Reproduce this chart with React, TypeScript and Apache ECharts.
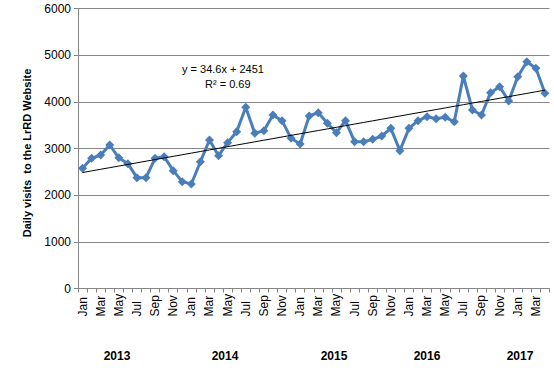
import React, { useEffect, useRef } from "react";
import * as echarts from "echarts";

const months = [
  "Jan", "Feb", "Mar", "Apr", "May", "Jun", "Jul", "Aug", "Sep", "Oct", "Nov", "Dec",
  "Jan", "Feb", "Mar", "Apr", "May", "Jun", "Jul", "Aug", "Sep", "Oct", "Nov", "Dec",
  "Jan", "Feb", "Mar", "Apr", "May", "Jun", "Jul", "Aug", "Sep", "Oct", "Nov", "Dec",
  "Jan", "Feb", "Mar", "Apr", "May", "Jun", "Jul", "Aug", "Sep", "Oct", "Nov", "Dec",
  "Jan", "Feb", "Mar", "Apr",
];

const visits2013 = [2575, 2790, 2860, 3075, 2800, 2675, 2375, 2375, 2790, 2825, 2525, 2290];
const visits2014 = [2240, 2717, 3182, 2846, 3125, 3360, 3882, 3325, 3382, 3718, 3596, 3218];
const visits2015 = [3096, 3696, 3767, 3540, 3339, 3596, 3146, 3146, 3196, 3268, 3432, 2954];
const visits2016 = [3432, 3596, 3682, 3640, 3668, 3575, 4553, 3825, 3718, 4196, 4325, 4018];
const visits2017 = [4539, 4860, 4718, 4182];

const visits = [...visits2013, ...visits2014, ...visits2015, ...visits2016, ...visits2017];

const trendSlope = 34.6;
const trendIntercept = 2451;
const trendLabel = "y = 34.6x + 2451";
const r2Label = "R² = 0.69";

const years = ["2013", "2014", "2015", "2016", "2017"];
const yearX = [117, 225, 334, 427, 520];

const FONT = "'Liberation Sans', Arial, sans-serif";

export default function App() {
  const ref = useRef<HTMLDivElement>(null);
  useEffect(() => {
    if (!ref.current) return;
    const chart = echarts.init(ref.current, null, { renderer: "svg" });
    const trend = visits.map((_, i) => +(trendSlope * (i + 1) + trendIntercept).toFixed(1));
    chart.setOption({
      animation: false,
      backgroundColor: "#ffffff",
      textStyle: { fontFamily: FONT },
      grid: { left: 78, right: 4.5, top: 8.5, bottom: 87.5, containLabel: false },
      xAxis: {
        type: "category",
        data: months,
        boundaryGap: true,
        axisLine: { lineStyle: { color: "#868686", width: 1 } },
        axisTick: { show: true, interval: 0, length: 4, lineStyle: { color: "#868686" } },
        axisLabel: {
          interval: 1,
          rotate: 90,
          align: "left",
          verticalAlign: "middle",
          margin: 28,
          color: "#000",
          fontSize: 12,
          fontFamily: FONT,
        },
        splitLine: { show: false },
      },
      yAxis: {
        type: "value",
        min: 0,
        max: 6000,
        interval: 1000,
        name: "Daily visits  to the LrRD Website",
        nameLocation: "middle",
        nameGap: 46,
        nameTextStyle: { fontWeight: "bold", fontSize: 11, color: "#000", fontFamily: FONT, padding: [0, 0, 0, -9] },
        axisLine: { show: true, lineStyle: { color: "#868686", width: 1 } },
        axisTick: { show: true, length: 4, lineStyle: { color: "#868686" } },
        axisLabel: {
          color: "#000",
          fontSize: 12,
          margin: 7,
          fontFamily: FONT,
          formatter: (v: number) => String(v),
        },
        splitLine: { show: true, lineStyle: { color: "#868686", width: 1 } },
      },
      series: [
        {
          type: "line",
          data: visits,
          symbol: "diamond",
          symbolSize: 9,
          showSymbol: true,
          showAllSymbol: true,
          lineStyle: { color: "#4A7EBB", width: 3 },
          itemStyle: { color: "#4A7EBB" },
          z: 3,
        },
        {
          type: "line",
          data: trend,
          symbol: "none",
          lineStyle: { color: "#000000", width: 1 },
          z: 4,
        },
      ],
      graphic: [
        {
          type: "text",
          left: 226 - 44,
          top: 63,
          style: { text: trendLabel, font: `11px ${FONT}`, fill: "#000" },
        },
        {
          type: "text",
          left: 205,
          top: 78,
          style: { text: r2Label, font: `11px ${FONT}`, fill: "#000" },
        },
        ...years.map((y, i) => ({
          type: "text",
          x: yearX[i],
          y: 356,
          style: {
            text: y,
            font: `bold 12px ${FONT}`,
            fill: "#000",
            align: "center",
            verticalAlign: "middle",
          },
        })),
      ],
    });
    return () => chart.dispose();
  }, []);
  return (
    <div
      ref={ref}
      style={{ position: "fixed", left: 0, top: 0, width: 554, height: 376, background: "#fff" }}
    />
  );
}
